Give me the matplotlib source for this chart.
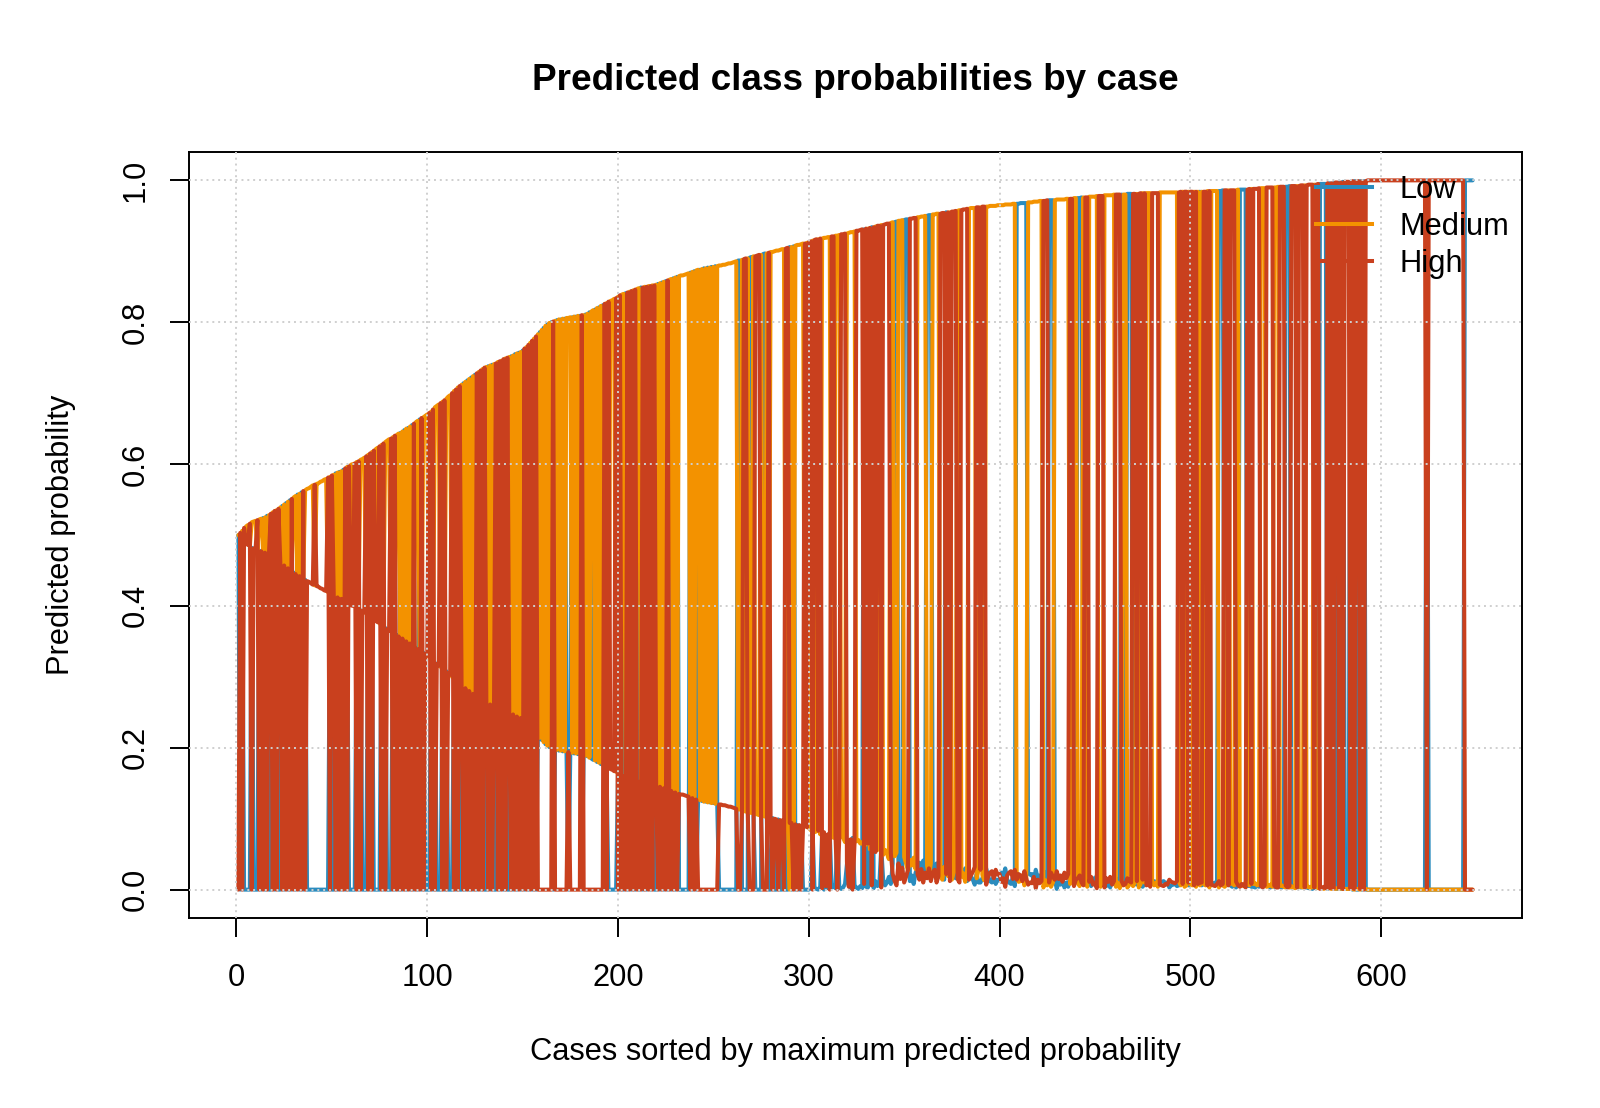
import numpy as np
import matplotlib
matplotlib.use("Agg")
import matplotlib.pyplot as plt
from matplotlib.lines import Line2D

plt.rcParams['font.family'] = ['Liberation Sans', 'DejaVu Sans']

# ---------------- data ----------------
class_names = ["Low", "Medium", "High"]
class_colors = ["#2B8CBE", "#F39200", "#C9401E"]

# maximum predicted probability per case (per mille), cases 1..648
max_prob_pm = [
    500,503,506,510,512,514,516,518,519,520,521,522,523,524,525,527,528,530,532,534,
    535,537,539,541,543,545,547,549,551,553,555,557,558,560,562,563,565,566,568,570,
    571,572,573,575,576,578,579,581,582,584,585,587,588,589,590,592,594,596,597,599,
    600,601,603,604,606,607,609,611,613,615,617,619,621,623,625,627,629,631,633,635,
    636,638,640,641,643,644,646,648,650,651,653,655,657,659,661,663,665,666,668,670,
    672,674,677,680,682,684,686,688,690,692,695,697,700,703,705,708,710,712,714,716,
    718,720,722,724,726,728,730,732,734,736,737,738,739,740,741,742,744,745,746,748,
    749,750,751,752,753,755,756,757,758,760,763,765,768,771,774,777,780,783,786,789,
    792,795,797,799,800,801,802,803,804,804,805,805,806,806,807,807,808,808,809,809,
    810,810,811,812,814,815,817,818,820,821,823,824,826,827,829,830,831,833,834,836,
    838,839,840,841,842,843,844,845,846,847,848,849,849,850,850,851,851,852,852,853,
    854,855,856,857,858,859,860,861,862,863,864,865,866,866,867,868,869,870,871,872,
    873,874,874,875,876,876,877,877,878,878,879,879,880,880,881,881,882,883,883,884,
    885,886,887,887,888,889,890,890,891,892,893,893,894,895,895,896,897,897,898,899,
    899,900,901,901,902,903,903,904,905,906,906,907,908,909,909,910,911,911,912,913,
    914,915,916,917,917,918,918,919,919,920,920,921,921,922,922,923,924,924,925,925,
    926,927,927,928,929,929,930,931,931,932,932,933,934,934,935,936,936,937,937,938,
    939,939,940,941,941,942,943,943,944,944,945,945,946,946,947,947,948,948,949,949,
    950,950,951,951,952,952,953,953,953,954,954,955,955,955,956,956,957,957,958,958,
    959,959,960,960,961,961,961,962,962,962,963,963,963,963,964,964,964,964,965,965,
    965,965,966,966,966,966,967,967,967,967,968,968,968,968,969,969,969,970,970,970,
    971,971,971,971,972,972,972,972,972,973,973,973,973,973,974,974,974,974,975,975,
    975,975,976,976,976,976,977,977,977,977,978,978,978,978,979,979,979,979,979,980,
    980,980,980,980,980,980,981,981,981,981,981,981,981,982,982,982,982,982,982,982,
    982,982,982,983,983,983,983,983,983,983,983,983,983,983,984,984,984,984,984,984,
    984,984,984,984,984,984,984,984,985,985,985,985,985,985,985,985,986,986,986,986,
    986,986,986,986,987,987,987,987,987,987,988,988,988,988,988,989,989,989,989,990,
    990,990,990,990,990,991,991,991,991,991,991,992,992,992,992,992,992,993,993,993,
    993,994,994,994,994,994,995,995,995,995,995,996,996,996,996,997,997,997,997,998,
    998,998,998,998,999,999,999,999,999,999,999,999,1000,1000,1000,1000,1000,1000,1000,1000,
] + [1000] * 48

# probability of the least likely class (per mille)
third_prob_pm = [0] * 300 + [
    2,0,3,1,0,4,2,0,5,2,0,3,6,2,0,4,1,3,8,36,
    4,2,0,6,3,1,5,2,8,4,3,10,6,2,12,5,8,3,14,6,
    10,18,8,22,12,6,20,15,25,10,18,28,12,20,8,24,30,14,22,10,
    26,16,30,12,24,20,10,28,18,32,14,22,26,12,30,20,16,28,10,24,
    18,30,12,26,20,14,32,22,10,28,16,24,30,18,12,26,20,28,14,22,
    24,16,30,20,10,26,18,28,14,22,20,12,26,16,24,10,22,18,28,14,
    20,12,26,16,22,10,24,18,14,26,12,20,16,24,10,22,18,12,20,14,
    16,20,10,18,14,20,12,18,16,10,20,14,18,12,18,16,10,18,14,12,
    16,10,18,12,14,8,16,12,10,14,8,12,16,10,14,8,12,10,14,8,
    12,8,14,10,6,12,8,10,14,6,10,8,12,6,10,8,12,10,6,8,
    10,6,12,8,10,6,8,10,6,12,8,6,10,8,12,6,8,10,6,8,
    6,4,8,3,6,4,8,6,3,5,6,8,4,3,6,4,6,3,5,6,
    5,3,6,4,3,6,4,3,5,6,3,5,3,5,6,3,4,3,4,3,
    3,2,4,1,3,2,3,1,2,4,2,1,2,3,1,2,1,2,1,1,
    1,1,1,1,0,1,0,0,1,0,0,
] + [0] * 57

# per-case ranking of classes: a=H>M>L  b=M>H>L  c=M>L>H  d=L>M>H  e=H>L>M  f=L>H>M
case_type = "".join([
    "d", "acabbacbbac", "bdbdb", "acaca", "bdbdbd", "ac", "bdbd", "ac",
    "bbbbabbbbbb", "aca", "bdbdbd", "acabbacacbbacacabbacacbbacac",
    "bdbdbdbdacbd", "acbbacacbbacacbbacaca", "bdbdbdbd", "acaca", "bdbdb",
    "acacaca", "bdbdbdbd", "acacaca", "cdcdcdcdacdcdcdcbcdcdcdacdcdc",
    "cdcdcdacabbbac", "acbdacacacbdaca", "cacabdbdbdacbdbdb", "bbbb", "bdbdb",
    "cdcdcdcdcdc", "bbbbbbbbbb",
    "dd", "b", "aa", "b", "dd", "c", "aaa", "b", "dd", "c", "a", "bcbbcbbc",
    "aa", "f", "b", "d", "bcbcb", "abaacaabac", "bcbc", "aa", "bcb", "aaa",
    "bcbcb", "aaa", "adabad", "abaacaaaa",
    "bc", "dd", "bcb", "ddd", "aaaa", "bcbcb", "ddd", "cbcb", "aa", "a", "d",
    "acaaa", "bc", "aaaa", "bcbc", "aacaa", "bcbcbcbcbcbcbcbc", "dddddd",
    "bcbcbcbc", "aaa", "ddd", "bcbcbcbc", "aa", "bc", "ddd", "b", "aa", "bcbcb",
    "aaa", "bcbcbc", "aaa", "d", "bc", "ddd", "aacaaca", "bcb", "aaaa",
    "bcbcbcbcbc", "aacaabaaca", "bdb", "aaca", "bcbc", "ddd", "aabaaa", "bc",
    "dddd", "aacaaaa", "bcb", "aaaa", "bcb", "aaa", "ddd", "aaacaaacaaaacaa",
    "dddd", "adadaadadaaadadaadad", "a" * 32, "d", "a" * 19, "ddddd",
])

x_ticks = [0, 100, 200, 300, 400, 500, 600]
y_ticks = [0.0, 0.2, 0.4, 0.6, 0.8, 1.0]
y_tick_labels = ["0.0", "0.2", "0.4", "0.6", "0.8", "1.0"]

# ---------------- build probability table ----------------
n = len(max_prob_pm)
assert len(third_prob_pm) == n and len(case_type) == n, (len(max_prob_pm), len(third_prob_pm), len(case_type))
order = {"a": "HML", "b": "MHL", "c": "MLH", "d": "LMH", "e": "HLM", "f": "LHM"}
idx = {"L": 0, "M": 1, "H": 2}
probs = np.zeros((n, 3))
for i in range(n):
    top, sec, thr = order[case_type[i]]
    m = max_prob_pm[i] / 1000.0
    t = third_prob_pm[i] / 1000.0
    probs[i, idx[top]] = m
    probs[i, idx[thr]] = t
    probs[i, idx[sec]] = 1.0 - m - t
cases = np.arange(1, n + 1)

# ---------------- figure ----------------
W, H = 1600, 1108
fig = plt.figure(figsize=(W / 100, H / 100), dpi=100)
ax = fig.add_axes([189 / W, 1 - 918 / H, (1522 - 189) / W, (918 - 152) / H])

lw = 2.9
for k in range(3):
    ax.plot(cases, probs[:, k], color=class_colors[k], lw=lw,
            solid_capstyle="round", solid_joinstyle="round", zorder=2)

pad_x = 0.04 * (n - 1)
ax.set_xlim(1 - pad_x, n + pad_x)
ax.set_ylim(-0.04, 1.04)

ax.set_xticks(x_ticks)
ax.set_xticklabels([str(v) for v in x_ticks])
ax.set_yticks(y_ticks)
ax.set_yticklabels(y_tick_labels)
ax.tick_params(axis="both", direction="out", length=13.7, width=1.4,
               labelsize=22.2, colors="black")
ax.tick_params(axis="x", pad=18.5)
ax.tick_params(axis="y", pad=14, labelrotation=90)
for lab in ax.get_yticklabels():
    lab.set_va("center")
for sp in ax.spines.values():
    sp.set_linewidth(1.4)
    sp.set_color("black")

ax.set_axisbelow(False)
ax.grid(True, color="#CFCFCF", linestyle=(0, (1, 2)), linewidth=1.4)

handles = [Line2D([0], [0], color=c, lw=lw) for c in class_colors]
leg = ax.legend(handles, class_names, loc="upper left",
                bbox_to_anchor=(1316 / W, 1 - 175 / H), bbox_transform=fig.transFigure,
                frameon=False, fontsize=22.2, handlelength=1.81, handletextpad=0.9,
                labelspacing=0.22, borderpad=0, borderaxespad=0)
leg.set_zorder(5)

cx = (189 + 1522) / 2 / W
fig.text(cx, 1 - 80.5 / H, "Predicted class probabilities by case",
         ha="center", va="center", fontsize=26.6, fontweight="bold")
fig.text(cx, 1 - 1052 / H, "Cases sorted by maximum predicted probability",
         ha="center", va="center", fontsize=22.2)
fig.text(61 / W, 1 - 535 / H, "Predicted probability", rotation=90,
         ha="center", va="center", fontsize=22.2)

fig.savefig("out.png", dpi=100, facecolor="white")
